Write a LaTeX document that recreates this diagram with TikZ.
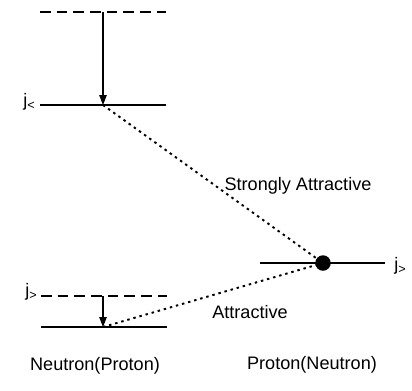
\documentclass[tikz,border=0pt]{standalone}
\usepackage{fontspec}
\setmainfont{Liberation Sans}
\usetikzlibrary{arrows.meta, positioning}

\begin{document}
\begin{tikzpicture}[
  x=0.02cm, y=-0.02cm,
  font=\fontsize{10.3}{12}\selectfont,
  level/.style={line width=0.9pt},
  dlevel/.style={line width=0.9pt, dash pattern=on 6pt off 3.5pt},
  trans/.style={-{Triangle[length=2mm, width=1.5mm]}, line width=0.7pt},
  link/.style={line width=1.1pt, dash pattern=on 1.4pt off 2.2pt},
  lbl/.style={inner sep=0pt},
  dot/.style={circle, fill=black, inner sep=0pt, minimum size=3.1mm},
]
\useasboundingbox (0,0) rectangle (412,390);

% Neutron (Proton) levels, left
\draw[dlevel] (40,12) -- (166,12);
\draw[level]  (40,105) -- (166,105);
\draw[dlevel] (41,296) -- (167,296);
\draw[level]  (41,327) -- (167,327);
\coordinate (up1) at (103,12);
\coordinate (lo1) at (103,105);
\coordinate (up2) at (103,296);
\coordinate (lo2) at (103,327);

% Proton (Neutron) level, right
\draw[level] (260,263) -- (385,263);
\node[dot] (orb) at (323,263) {};

% shifts
\draw[trans] (up1) -- (lo1);
\draw[trans] (up2) -- (lo2);

% interactions
\draw[link] (lo1) -- (orb.center);
\draw[link] (lo2) -- (orb.center);

% labels
\node[lbl, anchor=east] (jl) at (36,102) {j\textsubscript{<}};
\node[lbl, anchor=east] (jg) at (38,292) {j\textsubscript{>}};
\node[lbl, anchor=west] (jr) at (394,266) {j\textsubscript{>}};
\node[lbl] (strong) at (298,186) {Strongly Attractive};
\node[lbl] (attr)   at (250,312) {Attractive};
\node[lbl] (left)   at (95,366)  {Neutron(Proton)};
\node[lbl] (right)  at (312,365) {Proton(Neutron)};
\end{tikzpicture}
\end{document}
